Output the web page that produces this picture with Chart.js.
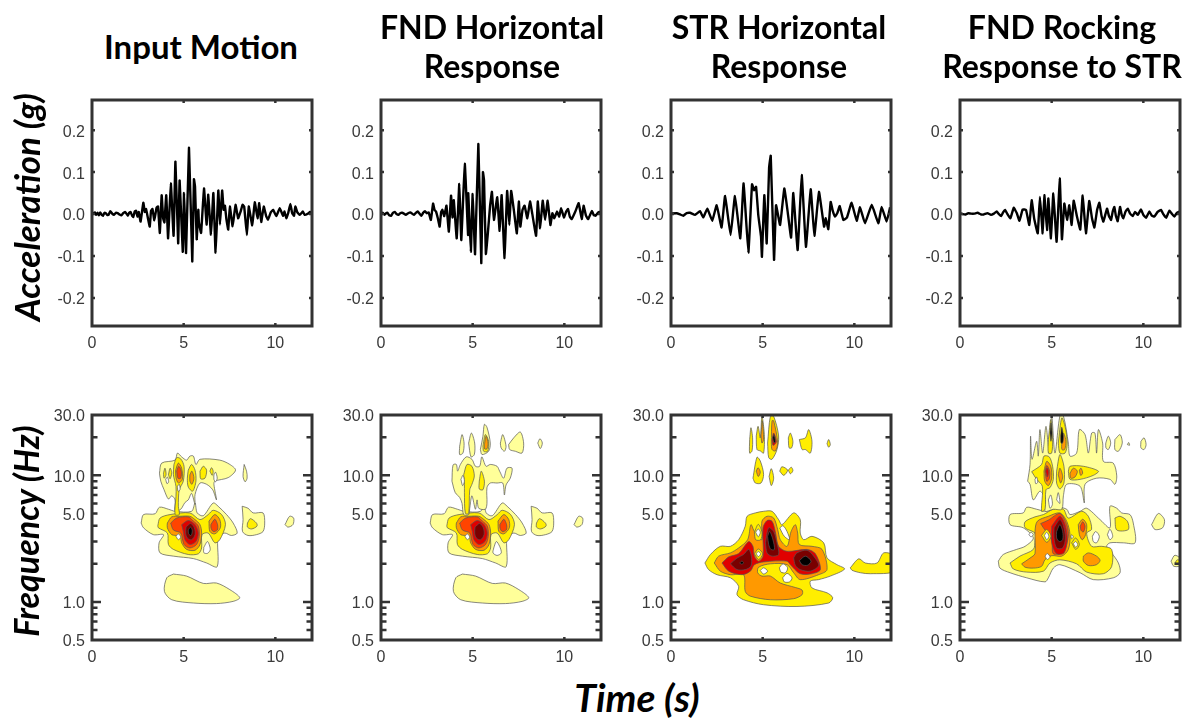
<!DOCTYPE html>
<html>
<head>
<meta charset="utf-8">
<script src="https://cdn.jsdelivr.net/npm/chart.js@4"></script>
<style>
body { margin: 0; background: #fff; width: 1189px; height: 718px; overflow: hidden; position: relative; }
canvas { position: absolute; }
.title, .axis { position: absolute; font-family: Lato, "Open Sans", sans-serif; font-weight: bold; color: #000; white-space: nowrap; text-align: center; transform: translate(-50%, -50%); }
.title { font-size: 32px; line-height: 39px; }
.axis { font-style: italic; line-height: 40px; }
</style>
</head>
<body>
<script>
// time (s), acceleration (g)
const inputWave = [[0,0],[.08,.002],[.15,.004],[.22,-.002],[.3,.003],[.38,-.003],[.45,.004],[.53,-.002],[.6,-.004],[.68,.003],[.75,.002],[.83,-.002],[.9,-.002],[1,.007],[1.1,.001],[1.2,-.002],[1.3,.003],[1.4,.002],[1.5,-.001],[1.6,-.003],[1.7,.002],[1.8,.005],[1.88,.001],[1.95,-.004],[2.03,.003],[2.1,.005],[2.18,-.003],[2.25,-.007],[2.33,.006],[2.4,.008],[2.48,-.006],[2.55,.005],[2.65,-.018],[2.8,.027],[2.88,.005],[2.95,.012],[3.05,-.01],[3.15,-.03],[3.22,.008],[3.3,.012],[3.4,-.015],[3.52,.015],[3.6,.018],[3.7,-.045],[3.8,.045],[3.88,-.01],[3.95,-.02],[4.05,.045],[4.15,-.058],[4.3,.073],[4.45,-.052],[4.55,.125],[4.7,-.07],[4.78,.08],[4.95,-.09],[5.02,.05],[5.13,-.093],[5.29,.158],[5.47,-.113],[5.56,.083],[5.62,.065],[5.71,-.06],[5.8,.01],[5.83,-.02],[5.95,-.045],[6.11,.061],[6.25,-.025],[6.34,.046],[6.49,-.049],[6.62,.05],[6.74,-.092],[6.89,.056],[6.98,-.025],[7.1,.056],[7.18,.01],[7.25,.02],[7.33,-.012],[7.43,-.037],[7.52,.018],[7.67,-.029],[7.83,.022],[7.97,-.01],[8.1,.005],[8.21,.022],[8.3,.018],[8.45,-.05],[8.55,.018],[8.74,-.027],[8.88,.028],[9.03,-.01],[9.12,.026],[9.23,-.019],[9.37,.018],[9.5,-.005],[9.6,-.013],[9.75,.004],[9.88,.01],[10.05,-.005],[10.24,.014],[10.42,-.004],[10.5,.006],[10.6,-.01],[10.7,.002],[10.82,.024],[10.92,.002],[11.02,-.004],[11.09,.018],[11.2,.004],[11.33,-.002],[11.5,.006],[11.6,-.002],[11.78,.001],[11.9,.005],[12,.004]];
const fndWave = [[0,.001],[.1,.003],[.2,-.002],[.28,.002],[.35,.003],[.45,-.003],[.55,-.004],[.65,.003],[.75,.005],[.85,0],[.95,-.002],[1.05,.002],[1.15,.003],[1.25,.001],[1.35,-.002],[1.48,.002],[1.6,.004],[1.7,.001],[1.8,-.002],[1.9,.003],[2,.006],[2.1,.001],[2.2,-.004],[2.3,.003],[2.4,.007],[2.5,.002],[2.6,.004],[2.72,-.014],[2.84,.025],[2.92,.01],[3,.006],[3.1,-.01],[3.2,-.03],[3.28,.005],[3.35,.01],[3.45,-.005],[3.57,.02],[3.7,-.042],[3.82,.044],[3.9,-.008],[3.97,.033],[4.13,-.058],[4.27,.072],[4.38,-.062],[4.57,.12],[4.75,-.05],[4.76,.05],[4.9,-.09],[5,.048],[5.13,-.096],[5.31,.167],[5.47,-.117],[5.56,.1],[5.62,.08],[5.72,-.095],[5.83,-.045],[5.95,.02],[6.05,.053],[6.16,-.014],[6.34,.04],[6.47,-.04],[6.58,.045],[6.74,-.105],[6.88,.055],[7,-.026],[7.1,.055],[7.25,.008],[7.41,-.046],[7.52,.03],[7.6,-.03],[7.72,.01],[7.83,.02],[7.98,-.01],[8.13,.03],[8.25,.001],[8.46,-.052],[8.55,.03],[8.68,-.034],[8.82,.032],[8.95,-.014],[9.09,.032],[9.24,-.026],[9.35,.002],[9.45,-.01],[9.6,.006],[9.72,-.006],[9.82,.014],[9.98,-.008],[10.1,.006],[10.2,.012],[10.3,-.006],[10.4,-.012],[10.6,.006],[10.78,.026],[10.95,-.012],[11.05,.02],[11.18,-.004],[11.3,-.012],[11.5,.007],[11.6,-.002],[11.7,-.004],[11.85,.004],[12,.006]];
const strWave = [[0,.001],[.31,.002],[.5,-.001],[.67,-.004],[.85,.002],[1.04,.003],[1.31,-.002],[1.58,.007],[1.76,-.008],[1.98,.013],[2.25,-.016],[2.49,.021],[2.76,-.032],[2.95,.043],[3.25,-.05],[3.49,.043],[3.78,-.058],[3.96,.073],[4.22,-.092],[4.42,.071],[4.53,.057],[4.64,.065],[4.76,-.002],[4.91,-.054],[4.96,-.102],[5.09,.045],[5.22,-.07],[5.35,.11],[5.44,.139],[5.62,-.109],[5.73,.021],[5.95,-.026],[6.18,.061],[6.35,.01],[6.55,-.056],[6.67,.05],[6.91,-.086],[7.13,.093],[7.36,-.078],[7.62,.059],[7.82,-.052],[8.07,.053],[8.35,-.03],[8.44,-.01],[8.58,-.036],[8.71,.029],[8.82,.008],[8.95,-.006],[9.08,.003],[9.2,.019],[9.4,-.014],[9.6,-.008],[9.85,.027],[10.13,-.016],[10.31,.016],[10.58,-.022],[10.95,.022],[11.31,-.022],[11.49,.017],[11.76,-.018],[11.95,.016]];
const rockWave = [[0,.002],[.15,0],[.3,-.001],[.45,.002],[.6,.001],[.78,.001],[.96,.003],[1.15,-.001],[1.3,-.001],[1.5,.002],[1.69,-.002],[1.85,.001],[2,.006],[2.12,0],[2.24,-.005],[2.35,.004],[2.45,.01],[2.6,-.001],[2.75,-.01],[2.93,.015],[3.1,.002],[3.24,-.016],[3.42,.011],[3.6,.01],[3.78,-.026],[3.91,.033],[4.05,-.012],[4.24,-.046],[4.36,.041],[4.51,-.046],[4.6,.045],[4.75,-.038],[4.82,.037],[4.96,-.058],[5.09,.049],[5.27,-.066],[5.44,.085],[5.56,-.06],[5.69,.025],[5.84,-.014],[5.96,.021],[6.09,-.026],[6.2,.032],[6.38,-.006],[6.56,-.037],[6.69,.044],[6.87,-.046],[7.05,.031],[7.2,-.01],[7.33,-.032],[7.48,.01],[7.6,.027],[7.72,-.004],[7.82,-.018],[8.02,.013],[8.12,-.004],[8.24,-.014],[8.33,.006],[8.42,.017],[8.5,-.004],[8.6,-.017],[8.73,.017],[8.82,-.002],[8.91,-.01],[9.03,.006],[9.15,.013],[9.28,.001],[9.42,-.005],[9.55,.005],[9.7,-.002],[9.87,.011],[10,-.002],[10.15,-.009],[10.33,.006],[10.45,-.003],[10.6,-.006],[10.78,.005],[10.96,.01],[11.1,-.001],[11.24,-.009],[11.42,.008],[11.55,.001],[11.69,-.006],[11.83,.003],[11.96,.006]];

// contour outlines: [level, [time, freq, time, freq, ...]], later entries sit on top
const lowBlob = [1,[4.44,1.66,4.08,1.55,3.95,1.21,4.35,1.04,5.53,.98,6.79,.97,7.7,1.01,8.06,1.08,7.52,1.25,6.79,1.41,6.07,1.4,5.16,1.6]];
const mainPale = [1,[2.68,4.2,2.81,4.9,3.44,4.97,3.68,5.6,4.17,5.4,4.53,5.2,5.43,5.2,5.62,6.05,5.74,5.05,6.07,4.8,6.61,6.05,6.88,5.7,7.34,4.9,7.7,4.2,7.92,3.5,7.6,3.35,7.25,3.5,6.88,3.3,6.83,1.9,6.25,2.03,5.53,2.2,4.44,2.3,3.71,2.44,3.66,2.93,3.9,3.4,3.35,3.4,2.81,3.85]];
const mainYellow = [2,[3.59,4,3.71,4.6,4.26,4.9,5.34,5.05,5.89,4.47,6.34,4.9,6.61,5.3,7.07,4.9,7.28,4.08,6.97,3.1,6.7,2.93,6.34,3.5,6,3.4,5.98,2.67,5.8,2.4,5.25,2.37,4.44,2.6,4.17,2.84,4.11,3.5,3.62,3.85]];
const mainCore = [
  [3,[4.11,4.2,4.35,4.7,4.8,4.75,5.34,4.75,5.62,4.47,5.89,4.08,5.98,3.5,5.89,2.84,5.62,2.56,5.16,2.6,4.89,2.93,4.8,3.3,4.35,3.4,4.11,3.85]],
  [3,[6.38,4.35,6.7,4.9,6.97,4.47,7,3.85,6.7,3.45,6.43,3.6]],
  [4,[4.29,4.2,4.62,4.6,5.25,4.7,5.53,4.35,5.8,3.97,5.85,3.3,5.7,2.84,5.34,2.67,5.02,2.84,4.84,3.5,4.44,3.7]],
  [4,[6.49,4.1,6.7,4.5,6.85,4.07,6.83,3.7,6.61,3.6,6.49,3.85]],
  [5,[4.89,4.08,5.25,4.4,5.62,4.08,5.8,3.5,5.67,3,5.34,2.84,5.07,3.1,4.98,3.6]],
  [6,[5.13,3.9,5.38,4.17,5.58,3.85,5.62,3.4,5.43,3.1,5.2,3.2,5.11,3.5]]
];
const rightBlob = [1,[8.19,5.7,8.51,5.5,8.79,5.05,9.33,5.05,9.42,4.2,9.33,3.6,8.97,3.4,8.51,3.35,8.21,3.6,8.24,4.47]];
const rightInner = [2,[8.48,4.2,8.64,4.55,8.97,4.2,9,3.97,8.7,3.77,8.48,3.9]];
const farBlob = [1,[10.53,4.08,10.78,4.75,11,4.6,10.96,4.08,10.69,3.9]];

const inputContours = [
  lowBlob, mainPale, [0,[6.1,2.7,6.3,3,6.45,2.6,6.3,2.42,6.1,2.45]], mainYellow,
  ...mainCore,
  [7,[5.25,3.7,5.38,3.9,5.47,3.65,5.4,3.35,5.27,3.45]],
  [0,[4.58,3.3,4.71,3.45,4.84,3.25,4.71,3.1]],
  [1,[3.68,10.4,3.8,12.5,4.53,13.2,4.66,15,4.89,14,5.16,13.2,5.34,14.2,5.53,14.2,5.67,12.2,5.89,13.4,6.97,13.2,7.52,12.2,7.83,11,7.43,9.6,6.7,9,6.65,8.5,6.79,6.4,6.58,7.7,6.25,8.5,5.89,8.7,5.62,7.05,5.62,5.9,5.43,7.2,5.25,6.4,5.07,6.1,4.84,5.4,4.53,5.2,4.53,6.4,4.35,6.9,4.17,6.5,3.93,7.7,3.75,9]],
  [2,[4.47,12.2,4.62,13.8,4.84,13.5,5.02,11.8,4.98,9,4.76,7.7,4.71,5.7,4.76,4.9,4.53,4.9,4.58,6.8,4.58,8.2,4.44,10.1]],
  [2,[5.25,11,5.43,12.2,5.62,11,5.67,9,5.49,7.5,5.25,8.1,5.2,9.5]],
  [2,[5.89,10.8,6.07,11.8,6.25,11,6.16,9.5,5.93,9.4]],
  [2,[3.9,10.4,3.98,11.4,4.04,10.1,3.93,9.5]],
  [2,[4.17,10.1,4.26,11.4,4.35,10.5,4.26,9.4]],
  [2,[6.43,10.8,6.52,11.5,6.61,10.8,6.56,10]],
  [3,[4.56,11,4.71,12.5,4.89,11.4,4.93,9.3,4.71,8.7,4.58,9.6]],
  [4,[4.62,10.8,4.73,11.8,4.87,10.8,4.84,9.5,4.69,9.5]],
  [3,[5.34,10.1,5.45,10.8,5.56,9.5,5.45,8.5,5.34,9]],
  [0,[4.02,9.3,4.11,9.7,4.18,8.9,4.09,8.6]],
  [0,[6.65,10.1,6.74,10.6,6.83,9.5,6.74,8.9,6.65,9.3]],
  [0,[4.66,8.2,4.76,8.5,4.8,7.7,4.69,7.5]],
  [1,[8.3,12.2,8.43,10.8,8.46,9.5,8.35,8.9,8.24,9.8]],
  rightBlob, rightInner, farBlob
];

const fndContours = [
  lowBlob, mainPale, [0,[6.15,2.67,6.29,3,6.47,2.75,6.56,2.44,6.33,2.33,6.11,2.44]], mainYellow,
  ...mainCore,
  [0,[4.58,3.3,4.71,3.45,4.84,3.25,4.71,3.1]],
  [1,[4.29,17,4.42,21,4.53,18,4.47,15,4.29,14.6]],
  [1,[4.78,18,4.93,21.6,5.11,18,5.09,14.6,4.91,14]],
  [1,[5.42,16,5.56,20.4,5.64,25.3,5.78,24,5.96,18,5.87,15.5,5.51,14.6]],
  [2,[5.56,17,5.69,21,5.87,18.6,5.82,15.5,5.6,15.5]],
  [3,[5.64,17.5,5.73,20.4,5.84,18,5.78,16.2,5.65,16.2]],
  [1,[6.51,18,6.64,21,6.82,17,6.73,15.5,6.55,16.5]],
  [1,[6.96,17.5,7.24,19.8,7.6,22,7.78,18,7.69,15,7.33,15.5,7.02,16]],
  [1,[8.55,18,8.67,19.5,8.8,18,8.69,16.3]],
  [1,[3.87,9,3.93,12.1,4.11,12.2,4.18,10.8,4.33,12.2,4.65,14,4.96,13.4,5.15,11.8,5.38,11.8,5.5,14,5.73,11.8,5.96,12.2,6.33,11.8,6.47,10.8,6.69,9.5,6.87,11.4,7.15,11.4,7.05,9.5,6.82,8.4,6.73,7,6.64,8.7,6.33,8.7,5.96,8.7,5.78,8,5.78,6,5.69,5.4,5.33,5.5,5.24,6.4,5.15,5.4,4.96,6.9,4.84,5.5,4.78,4.9,4.51,4.9,4.42,6,4.29,6.7,4.05,7.3]],
  [2,[4.51,10.1,4.69,12.2,4.96,11.8,5.09,9.9,4.96,8.5,4.84,7.7,4.78,5,4.6,5,4.55,7.3,4.55,8.5]],
  [2,[5.36,9,5.47,10.8,5.64,9,5.56,7.7,5.36,7.8]],
  [0,[4.36,9.3,4.47,10,4.55,9,4.45,8.3]],
  rightBlob, rightInner, farBlob
];

const strContours = [
  [2,[4.29,19.2,4.36,23.8,4.45,19.8,4.42,15.6,4.29,15]],
  [2,[4.65,20.5,4.75,24.4,4.87,19.8,4.96,29.3,5.09,21,5.05,15,4.87,15.6,4.69,16]],
  [3,[4.91,20.5,4.98,27,5.05,19.2,4.96,18]],
  [2,[5.27,18,5.42,29.3,5.6,29.3,5.87,20.5,5.78,16,5.51,13.4,5.33,13.8]],
  [3,[5.47,18,5.51,27,5.6,27,5.82,18,5.69,15.6,5.51,16]],
  [5,[5.51,19,5.6,21.6,5.75,18.6,5.67,17.6,5.56,17.3]],
  [7,[5.55,19.8,5.62,21,5.69,18.6,5.62,18]],
  [2,[6.4,19.8,6.51,21.6,6.65,18.6,6.58,16.5,6.44,16.5]],
  [2,[7,19.2,7.33,19.8,7.51,23,7.69,18.6,7.6,15,7.33,16,7.15,16]],
  [2,[8.51,17.8,8.6,19.2,8.69,17.5,8.6,16.7]],
  [2,[4.47,9.5,4.69,13.9,4.87,13,5.05,10.2,4.91,8.7,4.6,8.7]],
  [3,[4.65,10.8,4.75,11.5,4.87,10.6,4.76,9.8]],
  [2,[5.35,9.8,5.47,11.3,5.6,9.5,5.47,8.3]],
  [2,[5.93,10.8,6.05,11.7,6.36,11,6.15,10]],
  [2,[6.4,11,6.56,11.6,6.65,10.9,6.51,10.3]],
  [2,[1.85,2.03,2.15,2.37,2.69,2.75,3.24,2.75,3.69,3.1,4.05,3.97,4.15,4.75,4.6,5.05,5.05,5.2,5.51,5.2,5.87,4.47,6.05,4.08,6.69,5.05,7.05,4.47,7.05,3.5,7.24,3.1,7.69,3.3,8.33,2.93,8.51,2.23,9.05,1.97,9.47,1.82,8.69,1.6,8.05,1.5,7.6,1.46,7.69,1.29,8.51,1.18,8.82,1.08,8.6,.98,6.87,.92,5.05,.95,3.96,1.04,3.6,1.14,3.69,1.33,3.24,1.55,2.51,1.64,2.05,1.8]],
  [0,[5.93,3.84,6.11,4,6.33,3.6,6.47,3.1,6.18,3.3]],
  [3,[2.36,2.03,2.6,2.3,3.24,2.44,3.69,2.67,4.18,3.1,4.36,4.08,4.55,3.6,4.96,3.1,4.96,4.34,5.24,4.75,5.6,4.6,5.82,3.73,5.96,3.1,6.33,2.75,6.55,3.6,6.78,4.08,6.91,3.5,7,2.84,7.69,2.75,8.24,2.6,8.51,1.8,8.05,1.64,7.05,1.5,6.69,1.7,6.33,1.97,5.42,2,4.78,1.88,4.73,1.7,4.96,1.6,5.42,1.6,5.96,1.41,6.78,1.3,7.15,1.24,7.15,1.14,6.69,1.06,5.42,1.04,4.33,1.11,4.05,1.21,3.96,1.64,3.24,1.64,2.69,1.75]],
  [2,[4.55,3.55,4.76,4.1,4.96,3.55,4.89,3.1,4.62,3.1]],
  [0,[4.62,3.55,4.76,3.77,4.87,3.55,4.76,3.27]],
  [5,[2.78,2.03,3.15,2.27,3.69,2.41,4.24,3,4.47,2.75,4.55,2.3,4.78,2.1,5.02,2.3,5.02,3.85,5.24,4.4,5.51,4.34,5.69,3.6,5.87,2.75,6.33,2.51,7.42,2.6,7.87,2.41,8.15,1.8,7.69,1.67,7.05,1.67,6.51,1.97,6.33,2.1,5.05,2.07,4.55,1.97,4.33,1.75,3.87,1.64,3.15,1.75]],
  [6,[3.24,2,3.6,2.22,3.96,2.37,4.24,2.6,4.38,2.3,4.36,1.92,4.05,1.8,3.6,1.8]],
  [6,[5.15,2.93,5.33,3.85,5.6,3.6,5.78,2.93,5.87,2.37,5.51,2.3,5.24,2.44]],
  [6,[6.69,2.23,6.87,2.44,7.42,2.56,7.78,2.3,8.05,1.94,7.6,1.75,7.05,1.8,6.78,1.95]],
  [7,[5.27,3.3,5.38,3.6,5.56,3.1,5.64,2.6,5.45,2.6,5.33,2.84]],
  [7,[7,2.12,7.33,2.3,7.64,2.1,7.45,1.95,7.15,1.97]],
  [7,[3.75,2.03,3.87,2.1,3.96,2.03,3.85,1.99]],
  [2,[4.55,2.4,4.76,2.62,5,2.4,4.78,2.16]],
  [0,[4.65,2.4,4.76,2.5,4.89,2.4,4.76,2.28]],
  [0,[4.87,1.77,5.05,1.86,5.27,1.75,5.05,1.66]],
  [0,[5.91,1.86,6.11,2,6.36,1.86,6.24,1.7,6,1.72]],
  [0,[6.09,1.55,6.33,1.68,6.6,1.55,6.47,1.44,6.18,1.44]],
  [2,[9.78,1.86,10.24,2.19,10.6,2.03,11.24,2.03,11.6,2.44,12.2,2.3,12.2,1.75,10.87,1.67,10.33,1.7,9.87,1.78]]
];

const rockContours = [
  [1,[2.09,2.1,2.36,2.37,3.09,2.6,3.55,2.75,4,3.2,3.45,3.85,2.73,4.08,2.73,4.9,3.45,5.05,3.64,5.6,4.18,5.4,4.73,5.2,5.09,5.7,5.82,5.4,6,4.9,6.55,5.2,6.91,5.5,7.64,4.47,8.18,3.85,8.18,5.7,8.55,5.5,8.82,5.05,9.27,4.9,9.45,4.2,9.55,2.93,8.91,2.93,8.18,2.93,8,2.75,8.27,2.44,8.64,2.03,8.73,1.7,8.36,1.55,7.27,1.5,6.55,1.7,5.45,1.97,5.09,1.85,4.82,1.55,4.64,1.44,3.64,1.55,2.73,1.7,2.18,1.85]],
  [2,[8.45,4.6,8.73,4.75,9.13,4.34,9.18,3.73,8.55,3.7]],
  [0,[7.22,3.3,7.4,3.6,7.6,3.3,7.45,2.93,7.27,3]],
  [0,[8.04,3.4,8.18,3.75,8.33,3.3,8.18,3.1]],
  [0,[3.76,3.4,3.87,3.55,4,3.4,3.87,3.27]],
  [2,[2.73,2.03,3.27,2.3,4,2.6,4.09,3.05,4.09,3.5,3.55,3.85,3.55,4.3,4.09,4.7,4.55,4.9,5.09,5.4,5.64,5.4,5.91,4.6,6.64,5.2,7,4.75,7.18,3.75,6.91,3.5,7.18,2.75,7.73,2.75,8.27,2.6,8.27,1.9,7.82,1.67,6.91,1.72,6.36,2,5.45,2.15,4.91,2.03,4.55,1.75,3.64,1.72,2.91,1.82]],
  [3,[3.36,2,3.82,2.22,4.09,2.41,4.09,3.6,4.22,4.34,4.82,4.75,5.45,5.05,5.82,4.34,6,3.4,5.91,2.6,5.55,2.3,5,2.32,4.64,2.16,4.45,1.91,4,1.85,3.55,1.88]],
  [3,[6.45,4.08,6.69,4.5,6.91,4.08,6.85,3.4,6.67,3.1,6.51,3.4]],
  [4,[6.56,3.97,6.69,4.3,6.82,3.97,6.73,3.57,6.6,3.68]],
  [3,[6.73,2.3,7,2.44,7.45,2.3,7.64,2.13,7.45,1.97,7,1.94,6.73,2.1]],
  [4,[4.4,4.16,4.82,4.43,5.45,5,5.82,4.08,5.91,3.3,5.64,2.5,5.09,2.4,5,3.1,4.55,3.85]],
  [5,[5,3.97,5.45,4.75,5.73,4.08,5.85,3.1,5.67,2.43,5.27,2.4,5,2.93]],
  [6,[5.13,3.85,5.45,4.47,5.64,4,5.75,3.2,5.6,2.67,5.27,2.67,5.13,3.2]],
  [7,[5.27,3.6,5.45,4.08,5.6,3.6,5.6,3.1,5.42,3,5.27,3.2]],
  [2,[4.45,3.35,4.73,3.73,4.96,3.3,4.73,2.96]],
  [0,[4.6,3.35,4.73,3.55,4.85,3.3,4.73,3.1]],
  [2,[6.09,2.93,6.31,3.2,6.51,2.84,6.31,2.6]],
  [0,[6.18,2.88,6.31,3,6.42,2.84,6.31,2.7]],
  [0,[6.05,3.3,6.09,3.4,6.18,3.27,6.09,3.15]],
  [0,[4.64,2.3,4.76,2.41,4.91,2.27,4.76,2.16]],
  [1,[3.69,9,3.82,12.2,3.85,20.4,3.93,13.4,4.18,18.6,4.27,14.2,4.36,23,4.51,15,4.69,24.4,4.87,15,5,30,5.18,15,5.45,29.5,5.64,29.5,5.91,18,6,14.2,6.36,15,6.51,23,6.82,21,7,15,7.18,21.6,7.36,21.6,7.45,15,7.55,23,7.78,18,7.82,12.9,8.36,12.5,8.55,9.9,8.45,8.5,8.18,9.3,7.45,9.5,6.82,8.5,6.78,6.05,6.55,8.2,5.82,8.5,5.64,6.9,5.55,5.4,5.09,5.4,4.64,5.2,4.64,6.6,4.36,7.5,4,6.4,3.82,8.5]],
  [0,[4.82,6.4,4.95,7,5.04,5.9,4.91,5.5]],
  [0,[5.27,6.4,5.36,7.3,5.45,6]],
  [2,[3.91,10.7,4.45,12.2,4.58,14.2,4.87,14,5.05,11.8,5.09,9.3,4.91,8,4.69,7.7,4.64,5.4,4.45,5.2,4.49,8.2,4.18,9.3]],
  [2,[5.91,10.8,6,11.8,6.73,11.8,7.55,10.8,7.27,10,6.55,9.3,6,9.3]],
  [2,[5.27,10.8,5.45,14.6,5.67,11.8,5.67,8.7,5.45,7.8,5.27,8.7]],
  [2,[4.82,19.2,4.95,27.6,5.05,19.2,5,15,4.82,15]],
  [2,[5.36,18,5.55,28.4,5.73,24.4,5.85,18,5.73,15,5.45,15]],
  [3,[5.55,18,5.64,21.6,5.78,18.6,5.71,16,5.56,16]],
  [3,[4.58,10.8,4.73,12.9,4.95,11.8,5,9.5,4.82,8.3,4.62,9]],
  [4,[4.64,10.8,4.73,12,4.89,10.8,4.87,9.4,4.73,9]],
  [5,[4.67,10.8,4.75,11.5,4.84,10.6,4.76,9.7]],
  [3,[5.36,10.1,5.45,11.4,5.6,9.8,5.49,8.7]],
  [3,[6,10.4,6.18,11.4,6.4,10.8,6.27,9.7,6.04,9.5]],
  [3,[6.51,11,6.6,11.4,6.69,10.4,6.58,10]],
  [7,[4.91,21.6,4.96,26,5.02,21.6,4.96,18.6]],
  [7,[5.49,20.4,5.55,24,5.64,20.4,5.6,18,5.51,18]],
  [0,[4.09,9.3,4.18,9.7,4.24,8.8,4.13,8.6]],
  [1,[7.95,18,8.09,20.4,8.22,18,8.09,16,7.96,16.5]],
  [1,[8.45,19.2,8.73,21,8.85,18,8.64,15.5,8.45,16]],
  [1,[9.13,17.5,9.2,18.2,9.25,17.3]],
  [1,[9.87,18.6,10.04,19.8,10.15,17.5,10.04,16,9.87,16.5]],
  [1,[10.45,4.08,10.82,5,11.15,4.47,11.05,3.85,10.64,3.73]],
  [1,[11.51,2.1,11.73,2.34,12.2,2.1,12.2,1.95,11.67,1.91]],
  [2,[11.73,2.03,11.85,2.15,12.2,2.07,12.2,1.97]]
];

const timeTicks = [0, 5, 10];
const accelTicks = [-0.2, -0.1, 0, 0.1, 0.2];
const freqTicks = [0.5, 1, 5, 10, 30];
const freqLong = [1, 10];
const freqMinor = [0.6, 0.7, 0.8, 0.9, 2, 3, 4, 5, 6, 7, 8, 9, 20];
const panelTitles = [["Input Motion"], ["FND Horizontal", "Response"], ["STR Horizontal", "Response"], ["FND Rocking", "Response to STR"]];

const levelColors = ["#ffffff", "#ffff99", "#ffee00", "#ff9900", "#ff4400", "#e00000", "#7a0000", "#000000"];
const frameColor = "#333333";
const panelLeft = [92, 381, 671, 960];
const panelWidth = 220;
const labelRoom = 60;
const topRoom = 20;

// box and inward ticks, placed through the chart's own scales
function drawTicksY(chart, values, len) {
    const c = chart.ctx, a = chart.chartArea;
    c.beginPath();
    values.forEach(function (v) {
        const y = chart.scales.y.getPixelForValue(v);
        c.moveTo(a.left, y); c.lineTo(a.left + len, y);
        c.moveTo(a.right, y); c.lineTo(a.right - len, y);
    });
    c.stroke();
}
const framePlugin = {
    id: "frame",
    afterDraw: function (chart, args, opts) {
        const c = chart.ctx, a = chart.chartArea;
        c.save();
        c.strokeStyle = frameColor;
        c.lineWidth = 2.5;
        c.beginPath();
        timeTicks.slice(1).forEach(function (v) {
            const x = chart.scales.x.getPixelForValue(v);
            c.moveTo(x, a.top); c.lineTo(x, a.top + 3);
            c.moveTo(x, a.bottom); c.lineTo(x, a.bottom - 3);
        });
        c.stroke();
        if (opts.log) {
            drawTicksY(chart, freqMinor, 5.5);
            drawTicksY(chart, freqLong, 9);
        } else {
            drawTicksY(chart, accelTicks, 3);
        }
        c.lineWidth = 3;
        c.strokeRect(a.left, a.top, a.right - a.left, a.bottom - a.top);
        c.restore();
    }
};

function makeChart(left, top, height, datasets, yScale, log) {
    const canvas = document.createElement("canvas");
    canvas.width = labelRoom + panelWidth + 4;
    canvas.height = height + topRoom + 30;
    canvas.style.left = (left - labelRoom) + "px";
    canvas.style.top = (top - topRoom) + "px";
    document.body.appendChild(canvas);
    return new Chart(canvas.getContext("2d"), {
        type: "scatter",
        data: { datasets: datasets },
        plugins: [framePlugin],
        options: {
            responsive: false,
            animation: false,
            events: [],
            layout: { autoPadding: false, padding: { top: topRoom, right: 4, left: 0, bottom: 0 } },
            plugins: { legend: { display: false }, tooltip: { enabled: false }, frame: { log: log } },
            scales: {
                x: {
                    type: "linear", min: 0, max: 12,
                    grid: { display: false, drawTicks: false }, border: { display: false },
                    afterBuildTicks: function (s) { s.ticks = timeTicks.map(function (v) { return { value: v }; }); },
                    afterFit: function (s) { s.height = 30; },
                    ticks: { autoSkip: false, maxRotation: 0, padding: 8, color: "#3a3a3a", font: { family: "Liberation Sans", size: 16 } }
                },
                y: yScale
            }
        }
    });
}

function yAxis(type, min, max, values) {
    return {
        type: type, min: min, max: max,
        grid: { display: false, drawTicks: false }, border: { display: false },
        afterBuildTicks: function (s) { s.ticks = values.map(function (v) { return { value: v }; }); },
        afterFit: function (s) { s.width = labelRoom; },
        // empty first line with a short line height nudges the label down to sit on its tick
        ticks: {
            autoSkip: false, padding: 7, color: "#3a3a3a",
            font: { family: "Liberation Sans", size: 16, lineHeight: 0.25 },
            callback: function (v) { return ["", Number(v).toFixed(1)]; }
        }
    };
}

function waveChart(left, wave) {
    const set = {
        data: wave.map(function (p) { return { x: p[0], y: p[1] }; }),
        showLine: true, borderColor: "#000", borderWidth: 2.4, pointRadius: 0, tension: 0.1, borderJoinStyle: "round"
    };
    makeChart(left, 100, 226, [set], yAxis("linear", -0.267, 0.272, accelTicks), false);
}

function contourChart(left, contours) {
    const sets = contours.map(function (item, i) {
        const pts = [], xy = item[1];
        for (let k = 0; k < xy.length; k += 2) pts.push({ x: xy[k], y: xy[k + 1] });
        pts.push({ x: xy[0], y: xy[1] });
        return {
            data: pts, showLine: true, fill: "shape", order: contours.length - i,
            backgroundColor: levelColors[item[0]], borderColor: "#555", borderWidth: 0.7,
            pointRadius: 0, tension: 0.3
        };
    });
    makeChart(left, 415, 225, sets, yAxis("logarithmic", 0.5, 30, freqTicks), true);
}

[inputWave, fndWave, strWave, rockWave].forEach(function (w, i) { waveChart(panelLeft[i], w); });
[inputContours, fndContours, strContours, rockContours].forEach(function (c, i) { contourChart(panelLeft[i], c); });

function addText(cls, html, x, y, size, rotate) {
    const d = document.createElement("div");
    d.className = cls;
    d.innerHTML = html;
    d.style.left = x + "px";
    d.style.top = y + "px";
    if (size) d.style.fontSize = size + "px";
    if (rotate) d.style.transform = "translate(-50%, -50%) rotate(-90deg)";
    document.body.appendChild(d);
}
const titleX = [201, 492, 779, 1062];
const titleY = [46, 46, 46, 46];
panelTitles.forEach(function (t, i) { addText("title", t.join("<br>"), titleX[i], titleY[i], i === 0 ? 33 : 32); });
addText("axis", "Acceleration (g)", 26, 207, 35, true);
addText("axis", "Frequency (Hz)", 26, 531, 34, true);
addText("axis", "Time (s)", 637, 697, 39, false);
</script>
</body>
</html>
